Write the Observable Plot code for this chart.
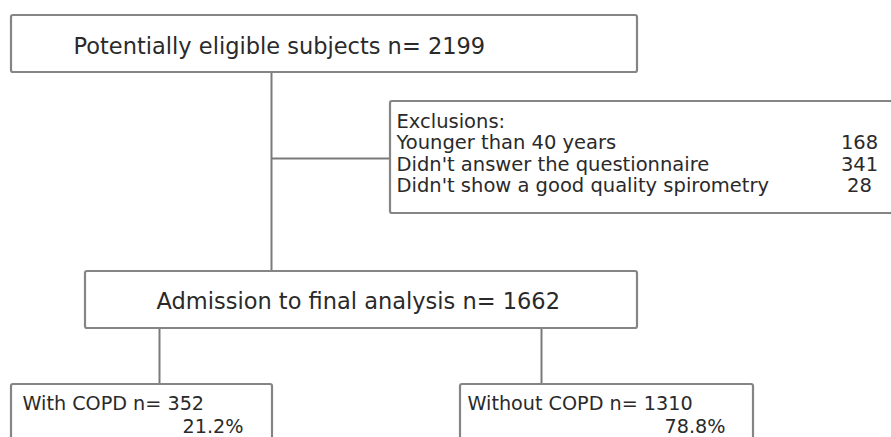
<!DOCTYPE html>
<html>
<head>
<meta charset="utf-8">
<script src="https://cdn.jsdelivr.net/npm/d3@7"></script>
<script src="https://cdn.jsdelivr.net/npm/@observablehq/plot@0.6"></script>
<style>
  html, body { margin: 0; padding: 0; background: #fff; }
  svg { display: block; }
</style>
</head>
<body>
<div id="chart"></div>
<script>
// ---- data ----
const steps = ["Potentially eligible subjects", "Admission to final analysis"];
const stepCounts = [2199, 1662];
const exclusionTitle = "Exclusions:";
const exclusionReasons = ["Younger than 40 years", "Didn't answer the questionnaire", "Didn't show a good quality spirometry"];
const exclusionCounts = [168, 341, 28];
const groups = ["With COPD", "Without COPD"];
const groupCounts = [352, 1310];
const groupPercents = ["21.2%", "78.8%"];

// ---- layout (diagram geometry, in pixels) ----
const W = 891, H = 437;
const stepBoxes = [
  {x1: 11, x2: 637, y1: 15, y2: 72, tx: 73, base: 53},
  {x1: 85, x2: 637, y1: 271, y2: 328, tx: 156, base: 308}
];
const exclBox = {x1: 390, x2: 905, y1: 101, y2: 213, tx: 396, numX: 859, bases: [127, 148.5, 170, 191.5]};
const groupBoxes = [
  {x1: 11, x2: 272, y1: 384, y2: 460, tx: 22, pctX: 243, base: 409.5, base2: 432.4},
  {x1: 460, x2: 753, y1: 384, y2: 460, tx: 467, pctX: 725, base: 409.5, base2: 432.4}
];
const links = [
  {x1: 271, y1: 72, x2: 271, y2: 271},
  {x1: 271, y1: 158, x2: 390, y2: 158},
  {x1: 159, y1: 328, x2: 159, y2: 384},
  {x1: 541, y1: 328, x2: 541, y2: 384}
];

const bigFs = 22.5, groupFs = 19.2, smallFs = 19.5;
const font = "'DejaVu Sans', Verdana, sans-serif";
const mid = (base, fs) => base - 0.32 * fs;

const boxStroke = "#858585";
const lineStroke = "#7a7a7a";
const ink = "#2a2a2a";

const stepRows = steps.map((s, i) => ({...stepBoxes[i], label: `${s} n= ${stepCounts[i]}`}));
const exclRows = [exclusionTitle, ...exclusionReasons].map((t, i) => ({label: t, x: exclBox.tx, y: mid(exclBox.bases[i], smallFs)}));
const exclNumRows = exclusionCounts.map((c, i) => ({label: String(c), x: exclBox.numX, y: mid(exclBox.bases[i + 1], smallFs)}));
const groupRows = groups.map((g, i) => ({...groupBoxes[i], label: `${g} n= ${groupCounts[i]}`, pct: groupPercents[i]}));

const plot = Plot.plot({
  width: W,
  height: H,
  margin: 0,
  x: {domain: [0, W], range: [0, W], axis: null},
  y: {domain: [0, H], range: [0, H], axis: null},
  style: {background: "#fff"},
  marks: [
    Plot.link(links, {x1: "x1", y1: "y1", x2: "x2", y2: "y2", stroke: lineStroke, strokeWidth: 2}),
    Plot.rect([...stepBoxes, exclBox, ...groupBoxes], {x1: "x1", x2: "x2", y1: "y1", y2: "y2", fill: "#fff", stroke: boxStroke, strokeWidth: 2.2, rx: 2}),
    Plot.text(stepRows, {x: "tx", y: d => mid(d.base, bigFs), text: "label", textAnchor: "start", fontFamily: font, fontSize: bigFs, fill: ink}),
    Plot.text(exclRows, {x: "x", y: "y", text: "label", textAnchor: "start", fontFamily: font, fontSize: smallFs, fill: ink}),
    Plot.text(exclNumRows, {x: "x", y: "y", text: "label", textAnchor: "middle", fontFamily: font, fontSize: smallFs, fill: ink}),
    Plot.text(groupRows, {x: "tx", y: d => mid(d.base, groupFs), text: "label", textAnchor: "start", fontFamily: font, fontSize: groupFs, fill: ink}),
    Plot.text(groupRows, {x: "pctX", y: d => mid(d.base2, groupFs), text: "pct", textAnchor: "end", fontFamily: font, fontSize: groupFs, fill: ink})
  ]
});
document.getElementById("chart").appendChild(plot);
</script>
</body>
</html>
